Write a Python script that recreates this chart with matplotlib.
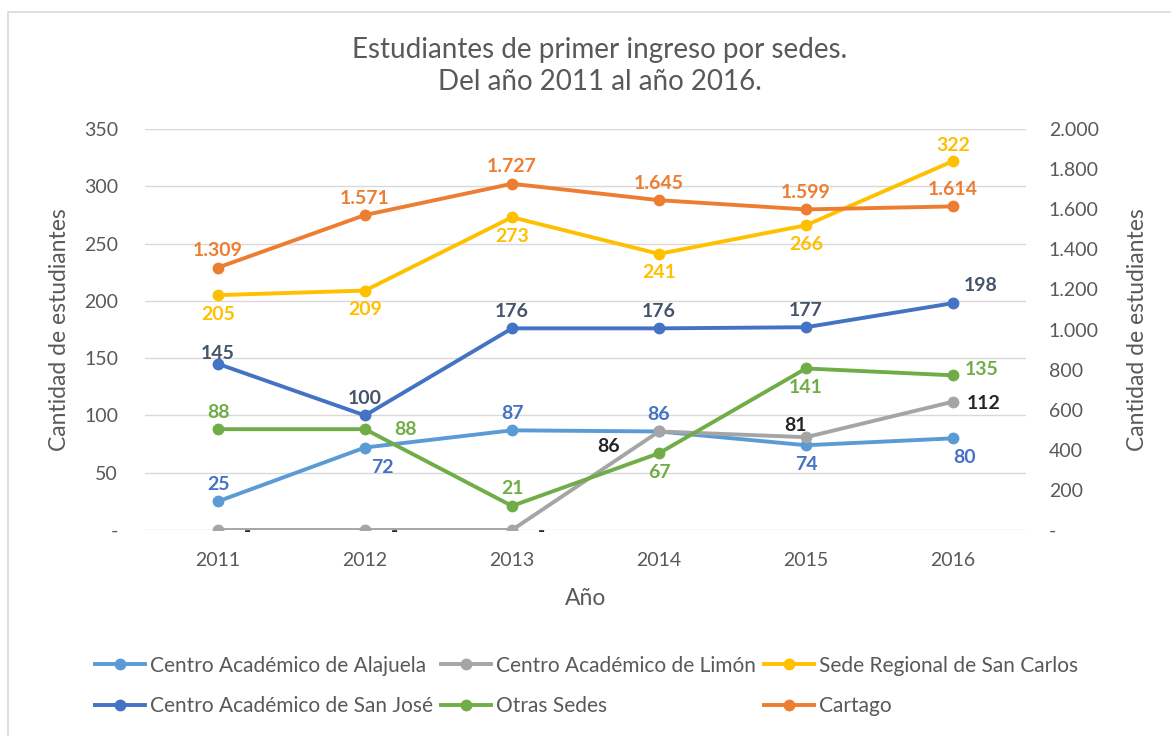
import matplotlib.pyplot as plt
from matplotlib.patches import Rectangle

plt.rcParams['font.family'] = ['Lato', 'DejaVu Sans']

years = ['2011', '2012', '2013', '2014', '2015', '2016']

alajuela = [25, 72, 87, 86, 74, 80]
limon = [0, 0, 0, 86, 81, 112]
san_carlos = [205, 209, 273, 241, 266, 322]
san_jose = [145, 100, 176, 176, 177, 198]
otras = [88, 88, 21, 67, 141, 135]
cartago = [1309, 1571, 1727, 1645, 1599, 1614]

names = ['Centro Académico de Alajuela', 'Centro Académico de Limón',
         'Sede Regional de San Carlos', 'Centro Académico de San José',
         'Otras Sedes', 'Cartago']

grey = '#595959'


def fmt(v):
    if v == 0:
        return '-'
    return f'{v:,}'.replace(',', '.')


def label_points(ax, xs, vals, offsets, color):
    for x, v, off in zip(xs, vals, offsets):
        ax.annotate(fmt(v), (x, v), xytext=off, textcoords='offset pixels',
                    ha='center', va='center', fontsize=14, fontweight='bold',
                    color=color)


fig = plt.figure(figsize=(11.71, 7.36), dpi=100)
# thin frame round the chart area (only left and top edges show)
fig.patches.append(Rectangle((8 / 1171, -0.1), 1.2, 0.1 + 724 / 736,
                             transform=fig.transFigure, fill=False,
                             edgecolor='#D9D9D9', linewidth=1.2))

ax = fig.add_axes([0.1234, 0.2799, 0.7532, 0.5448])
ax2 = ax.twinx()

x = list(range(len(years)))
lw = 2.8
ms = 7.5

l1, = ax.plot(x, alajuela, color='#5B9BD5', lw=lw, marker='o', ms=ms)
l2, = ax.plot(x, limon, color='#A5A5A5', lw=lw, marker='o', ms=ms)
l3, = ax.plot(x, san_carlos, color='#FFC000', lw=lw, marker='o', ms=ms)
l4, = ax.plot(x, san_jose, color='#4472C4', lw=lw, marker='o', ms=ms)
l5, = ax.plot(x, otras, color='#70AD47', lw=lw, marker='o', ms=ms)
l6, = ax2.plot(x, cartago, color='#ED7D31', lw=lw, marker='o', ms=ms)

up = (0, 17)
down = (0, -19)
label_points(ax, x, alajuela, [up, (17, -20), up, up, down, (12, -19)], '#4472C4')
label_points(ax, x, limon, [(29, -2), (29, -2), (29, -2), (-50, -15), (-10, 12), (31, -2)], '#262626')
label_points(ax, x, san_carlos, [down, down, down, down, down, (0, 16)], '#FFC000')
label_points(ax, x, san_jose, [(0, 10), up, up, up, up, (28, 18)], '#44546A')
label_points(ax, x, otras, [up, (40, 0), up, down, down, (29, 6)], '#70AD47')
label_points(ax2, x, cartago, [up, up, up, up, up, up], '#ED7D31')

ax.set_xlim(-0.5, len(years) - 0.5)
ax.set_ylim(0, 350)
ax2.set_ylim(0, 2000)
ax.set_xticks(x, years)
ax.set_yticks(range(0, 351, 50), [fmt(v) for v in range(0, 351, 50)])
ax2.set_yticks(range(0, 2001, 200), [fmt(v) for v in range(0, 2001, 200)])

for a in (ax, ax2):
    for s in a.spines.values():
        s.set_visible(False)
    a.tick_params(length=0, labelsize=14, colors=grey)
ax.tick_params(axis='y', pad=19)
ax2.tick_params(axis='y', pad=16)
ax.tick_params(axis='x', pad=16)
ax.grid(axis='y', color='#D9D9D9', lw=1)
ax.set_axisbelow(True)

ax.set_xlabel('Año', fontsize=16.5, color=grey)
ax.set_ylabel('Cantidad de estudiantes', fontsize=16.5, color=grey)
ax2.set_ylabel('Cantidad de estudiantes', fontsize=16.5, color=grey)
ax.xaxis.set_label_coords(0.5, -0.145)
ax.yaxis.set_label_coords(-0.084, 0.5)
ax2.yaxis.set_label_coords(1.114, 0.5)

fig.suptitle('Estudiantes de primer ingreso por sedes.\nDel año 2011 al año 2016.',
             x=0.512, y=0.91, va='center', fontsize=20, color=grey,
             linespacing=1.3)

fig.legend([l1, l4, l2, l5, l3, l6],
           [names[0], names[3], names[1], names[4], names[2], names[5]],
           ncol=3, loc='center', bbox_to_anchor=(0.501, 0.068), frameon=False,
           fontsize=15, labelcolor=grey, handlelength=2.4,
           handletextpad=0.24, columnspacing=0.4, labelspacing=1.0)

fig.savefig('out.png', dpi=100)
